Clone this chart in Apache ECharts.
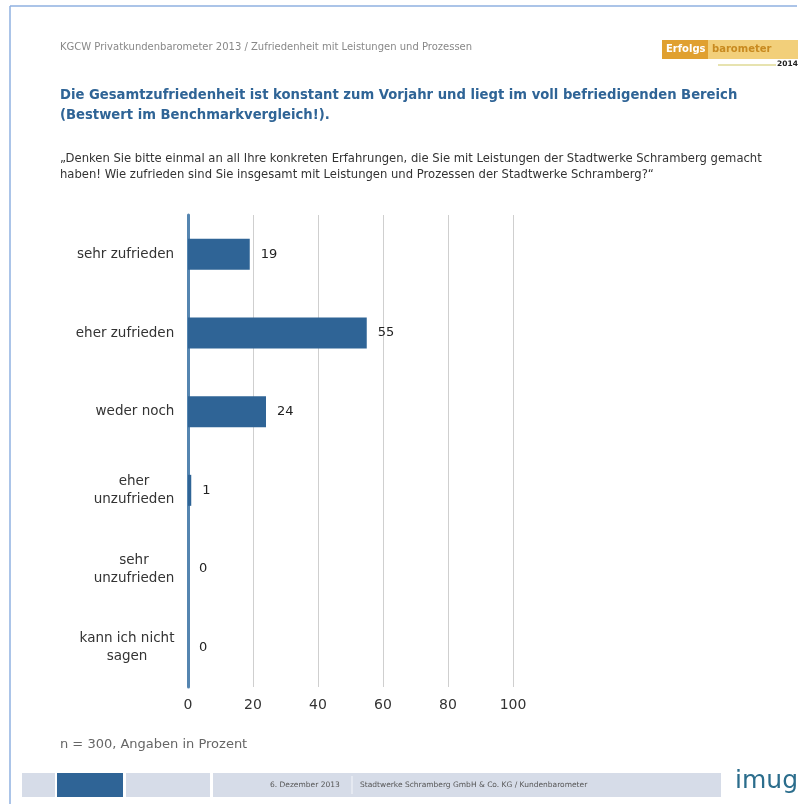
<!DOCTYPE html>
<html>
<head>
<meta charset="utf-8">
<script src="https://cdn.jsdelivr.net/npm/echarts@6/dist/echarts.min.js"></script>
<style>
  html, body { margin: 0; padding: 0; background: #fff; }
  #main { width: 806px; height: 804px; }
</style>
</head>
<body>
<div id="main"></div>
<script>
// Kategorien und Werte (Angaben in Prozent)
const categories = ['sehr zufrieden', 'eher zufrieden', 'weder noch', 'eher\nunzufrieden', 'sehr\nunzufrieden', 'kann ich nicht\nsagen'];
const values = [19, 55, 24, 1, 0, 0];
const xTicks = [0, 20, 40, 60, 80, 100];

const FONT = '"DejaVu Sans", "Liberation Sans", sans-serif';
const barColor = '#2f6496';

// mehrzeilige Beschriftungen: Zeilen zentriert, Block rechtsbündig
const ctx = document.createElement('canvas').getContext('2d');
ctx.font = '13.5px "DejaVu Sans", sans-serif';
const rich = {};
categories.forEach(function (c, i) {
    const w = Math.max.apply(null, c.split('\n').map(function (s) { return ctx.measureText(s).width; }));
    rich['c' + i] = { width: Math.ceil(w) + 1, align: 'center', fontSize: 13.5, color: '#333', fontFamily: FONT, lineHeight: 18 };
});

const chart = echarts.init(document.getElementById('main'), null, { renderer: 'canvas' });

const option = {
    backgroundColor: '#ffffff',
    animation: false,
    textStyle: { fontFamily: FONT },
    grid: { left: 188, right: 293, top: 215, bottom: 117, containLabel: false },
    xAxis: {
        type: 'value',
        min: xTicks[0],
        max: xTicks[xTicks.length - 1],
        interval: 20,
        axisLine: { show: false },
        axisTick: { show: false },
        axisLabel: { color: '#333', fontSize: 14, margin: 11, fontFamily: FONT },
        splitLine: { lineStyle: { color: '#cfcfcf', width: 1 } }
    },
    yAxis: {
        type: 'category',
        inverse: true,
        data: categories,
        axisLine: { show: true, lineStyle: { color: '#5585b0', width: 3 } },
        axisTick: { show: false },
        axisLabel: {
            margin: 13,
            formatter: function (v) {
                const i = categories.indexOf(v);
                return v.split('\n').map(function (s) { return '{c' + i + '|' + s + '}'; }).join('\n');
            },
            rich: rich
        }
    },
    series: [{
        type: 'bar',
        data: values,
        barWidth: 31,
        itemStyle: { color: barColor },
        label: {
            show: true,
            position: 'right',
            distance: 11,
            color: '#222',
            fontSize: 13,
            fontFamily: FONT
        }
    }],
    graphic: [
        // Rahmen
        { type: 'line', shape: { x1: 10, y1: 6, x2: 797, y2: 6 }, style: { stroke: '#8fb0e0', lineWidth: 1.5 } },
        { type: 'line', shape: { x1: 10, y1: 6, x2: 10, y2: 804 }, style: { stroke: '#8fb0e0', lineWidth: 1.5 } },
        // Kopfzeile
        { type: 'text', left: 60, top: 42, style: { text: 'KGCW Privatkundenbarometer 2013 / Zufriedenheit mit Leistungen und Prozessen', fill: '#888', fontSize: 10, fontFamily: FONT } },
        // Logo
        { type: 'rect', shape: { x: 662, y: 40, width: 46, height: 19 }, style: { fill: '#e0a030' } },
        { type: 'rect', shape: { x: 708, y: 40, width: 90, height: 19 }, style: { fill: '#f2cf7a' } },
        { type: 'text', left: 666, top: 44, style: { text: 'Erfolgs', fill: '#fff', fontSize: 10, fontWeight: 'bold', fontFamily: FONT } },
        { type: 'text', left: 712, top: 44, style: { text: 'barometer', fill: '#c88a20', fontSize: 10, fontWeight: 'bold', fontFamily: FONT } },
        { type: 'rect', shape: { x: 718, y: 64, width: 58, height: 2 }, style: { fill: '#e7e3b0' } },
        { type: 'text', left: 777, top: 60, style: { text: '2014', fill: '#222', fontSize: 7.5, fontWeight: 'bold', fontFamily: FONT } },
        // Titel
        { type: 'text', left: 60, top: 86, style: { text: 'Die Gesamtzufriedenheit ist konstant zum Vorjahr und liegt im voll befriedigenden Bereich\n(Bestwert im Benchmarkvergleich!).', fill: '#2f6496', fontSize: 13.2, fontWeight: 'bold', lineHeight: 20, fontFamily: FONT } },
        // Frage
        { type: 'text', left: 60, top: 151, style: { text: '\u201EDenken Sie bitte einmal an all Ihre konkreten Erfahrungen, die Sie mit Leistungen der Stadtwerke Schramberg gemacht\nhaben! Wie zufrieden sind Sie insgesamt mit Leistungen und Prozessen der Stadtwerke Schramberg?\u201C', fill: '#333', fontSize: 11.6, lineHeight: 16, fontFamily: FONT } },
        // Fußnote
        { type: 'text', left: 60, top: 738, style: { text: 'n = 300, Angaben in Prozent', fill: '#666', fontSize: 13, fontFamily: FONT } },
        // Fußleiste
        { type: 'rect', shape: { x: 22, y: 773, width: 33, height: 24 }, style: { fill: '#d6dce8' } },
        { type: 'rect', shape: { x: 57, y: 773, width: 66, height: 24 }, style: { fill: '#2f6496' } },
        { type: 'rect', shape: { x: 126, y: 773, width: 84, height: 24 }, style: { fill: '#d6dce8' } },
        { type: 'rect', shape: { x: 213, y: 773, width: 508, height: 24 }, style: { fill: '#d6dce8' } },
        { type: 'line', shape: { x1: 352, y1: 776, x2: 352, y2: 794 }, style: { stroke: '#f4f6fa', lineWidth: 1 } },
        { type: 'text', left: 270, top: 781, style: { text: '6. Dezember 2013', fill: '#555', fontSize: 7.5, fontFamily: FONT } },
        { type: 'text', left: 360, top: 781, style: { text: 'Stadtwerke Schramberg GmbH & Co. KG / Kundenbarometer', fill: '#555', fontSize: 7.5, fontFamily: FONT } },
        { type: 'text', left: 735, top: 769, style: { text: 'imug', fill: '#2b6d8c', fontSize: 25, fontFamily: FONT } }
    ]
};

chart.setOption(option);
</script>
</body>
</html>
